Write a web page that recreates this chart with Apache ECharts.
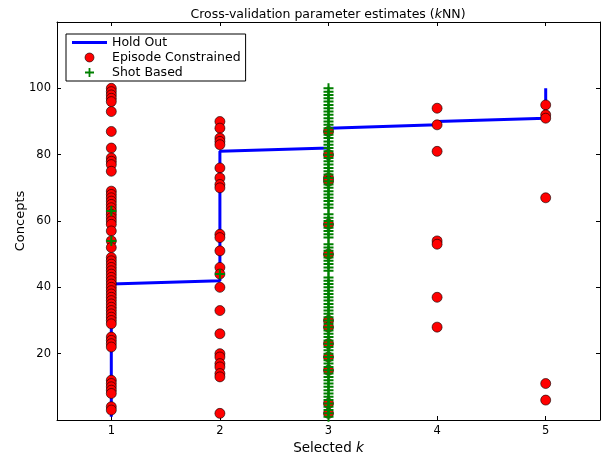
<!DOCTYPE html>
<html>
<head>
<meta charset="utf-8">
<script src="https://cdn.jsdelivr.net/npm/echarts@6/dist/echarts.min.js"></script>
<style>
  html, body { margin: 0; padding: 0; background: #fff; }
  #chart { width: 610px; height: 457px; }
</style>
</head>
<body>
<div id="chart"></div>
<script>
var kTicks = [1, 2, 3, 4, 5]
var conceptTicks = [20, 40, 60, 80, 100]

// Hold Out: corners of the stepped line (selected k, concept)
var holdOutK = [1, 1, 2, 2, 3, 3, 4, 4, 5, 5]
var holdOutConcept = [1, 41, 42, 81, 82, 88, 89, 90, 91, 100]

// Episode Constrained: concepts for each selected k
var episodeK1 = [100, 99, 98, 97, 96, 93, 87, 82, 79, 78, 77, 75, 69, 68, 67, 66, 65, 64, 63, 62, 61, 60, 59, 57, 54, 52,
  49, 48, 47, 46, 45, 44, 43, 42, 41, 40, 39, 38, 37, 36, 35, 34, 33, 32, 31, 30, 29, 25, 24, 23, 22, 12, 11, 10, 9, 8, 4, 3]
var episodeK2 = [90, 88, 85, 84, 83, 76, 73, 71, 70, 56, 55, 51, 46, 44, 40, 33, 26, 20, 19, 17, 16, 14, 13, 2]
var episodeK3 = [87, 80, 73, 72, 59, 50, 30, 28, 23, 19, 15, 5, 2]
var episodeK4 = [94, 89, 81, 54, 53, 37, 28]
var episodeK5 = [95, 92, 91, 67, 11, 6]

// Shot Based: concepts for each selected k
var shotK1 = [63, 54]
var shotK2 = [44]
var shotK3 = [1, 2, 3, 4, 5, 6, 7, 8, 9, 10, 11, 12, 13, 14, 15, 16, 17, 18, 19, 20,
  21, 22, 23, 24, 25, 26, 27, 28, 29, 30, 31, 32, 33, 34, 35, 36, 37, 38, 39, 40,
  41, 42, 43, 45, 46, 47, 48, 49, 50, 51, 52, 53, 55, 56, 57, 58, 59, 60,
  61, 62, 64, 65, 66, 67, 68, 69, 70, 71, 72, 73, 74, 75, 76, 77, 78, 79, 80,
  81, 82, 83, 84, 85, 86, 87, 88, 89, 90, 91, 92, 93, 94, 95, 96, 97, 98, 99, 100]

function pairs(k, list) {
  return list.map(function (c) { return [k, c] })
}

var holdOutData = holdOutK.map(function (k, i) { return [k, holdOutConcept[i]] })
var episodeData = [].concat(pairs(1, episodeK1), pairs(2, episodeK2), pairs(3, episodeK3), pairs(4, episodeK4), pairs(5, episodeK5))
var shotData = [].concat(pairs(1, shotK1), pairs(2, shotK2), pairs(3, shotK3))

var font = 'DejaVu Sans'
var plusPath = 'path://M4,0H6V4H10V6H6V10H4V6H0V4H4Z'
var barPath = 'path://M0,0H33V3H0Z'

var myChart = echarts.init(document.getElementById('chart'))

var frameAxisLine = { show: true, onZero: false, lineStyle: { color: '#000', width: 1 } }

var option = {
  backgroundColor: '#fff',
  animation: false,
  textStyle: { fontFamily: font },
  title: {
    text: 'Cross-validation parameter estimates ({k|k}NN)',
    left: 323,
    textAlign: 'center',
    top: 3,
    textStyle: {
      fontFamily: font,
      fontSize: 12.5,
      fontWeight: 'normal',
      color: '#000',
      rich: { k: { fontFamily: font, fontSize: 12.5, fontStyle: 'italic', color: '#000' } }
    }
  },
  legend: {
    orient: 'vertical',
    left: 66,
    top: 34,
    padding: [2, 5, 2, 6],
    itemGap: 2,
    itemWidth: 35,
    itemHeight: 9,
    backgroundColor: '#fff',
    borderColor: '#000',
    borderWidth: 1,
    borderRadius: 0,
    textStyle: { fontFamily: font, fontSize: 12.5, color: '#000' },
    data: [
      { name: 'Hold Out', icon: barPath },
      { name: 'Episode Constrained', itemStyle: { borderWidth: 0.6, borderColor: '#000' } },
      { name: 'Shot Based' }
    ]
  },
  grid: { left: 57, right: 10, top: 22, bottom: 37, containLabel: false, outerBoundsMode: 'none' },
  xAxis: [
    {
      type: 'value',
      min: 0.5,
      max: 5.5,
      position: 'bottom',
      name: 'Selected {k|k}',
      nameLocation: 'middle',
      nameGap: 19,
      nameTextStyle: {
        fontFamily: font, fontSize: 13.5, color: '#000',
        rich: { k: { fontFamily: font, fontSize: 13.5, fontStyle: 'italic', color: '#000' } }
      },
      splitLine: { show: false },
      axisLine: frameAxisLine,
      axisTick: { show: true, inside: true, length: 4, lineStyle: { color: '#000' }, customValues: kTicks },
      axisLabel: { customValues: kTicks, fontFamily: font, fontSize: 11.5, color: '#000', margin: 5 }
    },
    {
      type: 'value',
      min: 0.5,
      max: 5.5,
      position: 'top',
      splitLine: { show: false },
      axisLine: frameAxisLine,
      axisTick: { show: true, inside: true, length: 4, lineStyle: { color: '#000' }, customValues: kTicks },
      axisLabel: { show: false }
    }
  ],
  yAxis: [
    {
      type: 'value',
      min: 0,
      max: 120,
      position: 'left',
      name: 'Concepts',
      nameLocation: 'middle',
      nameGap: 30,
      nameMoveOverlap: false,
      nameTextStyle: { fontFamily: font, fontSize: 13, color: '#000' },
      splitLine: { show: false },
      axisLine: frameAxisLine,
      axisTick: { show: true, inside: true, length: 4, lineStyle: { color: '#000' }, customValues: conceptTicks },
      axisLabel: { customValues: conceptTicks, fontFamily: font, fontSize: 11.5, color: '#000', margin: 6 }
    },
    {
      type: 'value',
      min: 0,
      max: 120,
      position: 'right',
      splitLine: { show: false },
      axisLine: frameAxisLine,
      axisTick: { show: true, inside: true, length: 4, lineStyle: { color: '#000' }, customValues: conceptTicks },
      axisLabel: { show: false }
    }
  ],
  series: [
    {
      name: 'Hold Out',
      type: 'line',
      data: holdOutData,
      symbol: 'none',
      showSymbol: false,
      z: 1,
      itemStyle: { color: '#0000ff' },
      lineStyle: { color: '#0000ff', width: 3 }
    },
    {
      name: 'Episode Constrained',
      type: 'scatter',
      data: episodeData,
      symbol: 'circle',
      symbolSize: 10,
      z: 2,
      itemStyle: { color: '#ff0000', borderColor: '#000', borderWidth: 0.6, opacity: 1 }
    },
    {
      name: 'Shot Based',
      type: 'scatter',
      data: shotData,
      symbol: plusPath,
      symbolSize: 10,
      z: 3,
      itemStyle: { color: '#008000', opacity: 1 }
    }
  ]
}

myChart.setOption(option)
</script>
</body>
</html>
